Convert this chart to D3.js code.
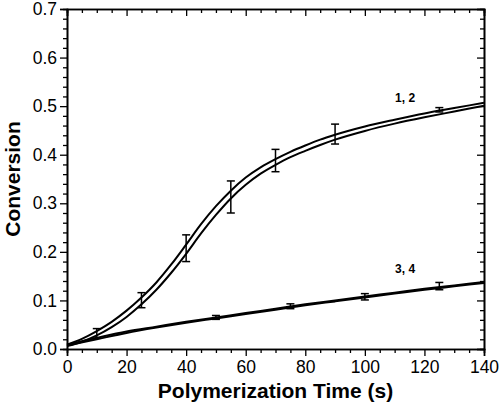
<!DOCTYPE html>
<html>
<head>
<meta charset="utf-8">
<script src="https://cdn.jsdelivr.net/npm/d3@7/dist/d3.min.js"></script>
<style>
  body{margin:0;background:#fff;}
  text{font-family:"Liberation Sans",Arial,sans-serif;}
</style>
</head>
<body>
<svg id="chart" width="500" height="403"></svg>
<script>
// data
const times12 = [0,5,10,15,20,25,30,35,40,45,50,55,60,65,70,75,80,85,90,100,110,120,130,140];
const curve1 = [0.009,0.021,0.037,0.056,0.079,0.106,0.137,0.174,0.215,0.257,0.294,0.326,0.353,0.374,0.391,0.406,0.419,0.431,0.441,0.458,0.472,0.485,0.496,0.507];
const curve2 = [0.006,0.015,0.028,0.045,0.066,0.092,0.122,0.157,0.196,0.238,0.276,0.310,0.338,0.361,0.379,0.395,0.408,0.420,0.431,0.449,0.464,0.477,0.489,0.501];
const times34 = [0,10,20,30,40,50,60,70,80,90,100,110,120,130,140];
const curve3 = [0.009,0.023,0.036,0.046,0.056,0.065,0.074,0.083,0.092,0.100,0.108,0.116,0.124,0.131,0.138];
const curve4 = [0.007,0.020,0.033,0.044,0.054,0.063,0.072,0.081,0.090,0.098,0.106,0.114,0.122,0.129,0.136];
// error bars: [time, low, high]
const err12 = [[10,0.022,0.042],[25,0.085,0.116],[40,0.180,0.235],[55,0.280,0.346],[70,0.365,0.411],[90,0.422,0.463],[125,0.488,0.497]];
const err34 = [[50,0.061,0.069],[75,0.083,0.093],[100,0.101,0.114],[125,0.122,0.137]];
const xTicks = [0,20,40,60,80,100,120,140];
const yTicks = [0,0.1,0.2,0.3,0.4,0.5,0.6,0.7];
const labels = [{text:'1, 2',t:113.5,v:0.508},{text:'3, 4',t:113.5,v:0.156}];

const svg = d3.select('#chart');
const m = {left:67,top:9,right:16,bottom:54};
const W = 500-m.left-m.right, H = 403-m.top-m.bottom;
const g = svg.append('g').attr('transform',`translate(${m.left},${m.top})`);

const x = d3.scaleLinear().domain([0,140]).range([0,W]);
const y = d3.scaleLinear().domain([0,0.7]).range([H,0]);

const xMinor = d3.range(0,141,5).filter(d=>d%20!==0);
const yMinor = d3.range(0,71,2).map(d=>d/100).filter(d=>Math.round(d*100)%10!==0);

function styleAxis(sel){
  sel.select('.domain').attr('stroke','#000').attr('stroke-width',1.6);
  sel.selectAll('.tick line').attr('stroke','#000').attr('stroke-width',1.3);
  sel.selectAll('.tick text').attr('font-size',17.5).attr('fill','#000');
}

// bottom
g.append('g').attr('transform',`translate(0,${H})`)
  .call(d3.axisBottom(x).tickValues(xMinor).tickSize(4).tickFormat(''))
  .call(styleAxis);
g.append('g').attr('transform',`translate(0,${H})`)
  .call(d3.axisBottom(x).tickValues(xTicks).tickSize(7).tickPadding(5).tickFormat(d3.format('d')))
  .call(styleAxis);
// top (ticks pointing in)
g.append('g')
  .call(d3.axisBottom(x).tickValues(xMinor).tickSize(4).tickFormat(''))
  .call(styleAxis);
g.append('g')
  .call(d3.axisBottom(x).tickValues(xTicks).tickSize(7).tickFormat(''))
  .call(styleAxis);
// left
g.append('g')
  .call(d3.axisLeft(y).tickValues(yMinor).tickSize(4).tickFormat(''))
  .call(styleAxis);
g.append('g')
  .call(d3.axisLeft(y).tickValues(yTicks).tickSize(7).tickPadding(3).tickFormat(d3.format('.1f')))
  .call(styleAxis);
// right (ticks pointing in)
g.append('g').attr('transform',`translate(${W},0)`)
  .call(d3.axisLeft(y).tickValues(yMinor).tickSize(4).tickFormat(''))
  .call(styleAxis);
g.append('g').attr('transform',`translate(${W},0)`)
  .call(d3.axisLeft(y).tickValues(yTicks).tickSize(7).tickFormat(''))
  .call(styleAxis);

const line = d3.line().x(d=>x(d[0])).y(d=>y(d[1])).curve(d3.curveMonotoneX);
const series = [[times12,curve1],[times12,curve2],[times34,curve3],[times34,curve4]];
series.forEach(([ts,vs])=>{
  g.append('path').datum(ts.map((t,i)=>[t,vs[i]]))
    .attr('d',line).attr('fill','none').attr('stroke','#000').attr('stroke-width',2);
});

// error bars
const eb = g.append('g').attr('stroke','#000').attr('stroke-width',1.5);
err12.concat(err34).forEach(([t,lo,hi])=>{
  const cx = x(t);
  eb.append('line').attr('x1',cx).attr('x2',cx).attr('y1',y(lo)).attr('y2',y(hi));
  eb.append('line').attr('x1',cx-4).attr('x2',cx+4).attr('y1',y(lo)).attr('y2',y(lo));
  eb.append('line').attr('x1',cx-4).attr('x2',cx+4).attr('y1',y(hi)).attr('y2',y(hi));
});

// curve labels
g.selectAll('.clab').data(labels).enter().append('text')
  .attr('x',d=>x(d.t)).attr('y',d=>y(d.v))
  .attr('text-anchor','middle').attr('font-size',12).attr('font-weight','bold')
  .text(d=>d.text);

// axis titles
svg.append('text').attr('x',m.left+W/2).attr('y',398)
  .attr('text-anchor','middle').attr('font-size',21).attr('font-weight','bold')
  .text('Polymerization Time (s)');
svg.append('text').attr('transform',`translate(20,${m.top+H/2}) rotate(-90)`)
  .attr('text-anchor','middle').attr('font-size',21).attr('font-weight','bold')
  .text('Conversion');
</script>
</body>
</html>
